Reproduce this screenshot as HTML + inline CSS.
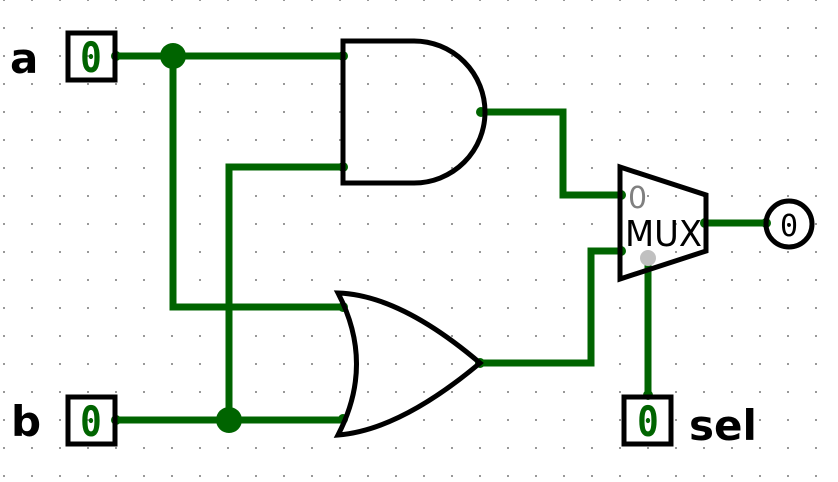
<!DOCTYPE html>
<html><head><style>body{margin:0;background:#fff}svg{display:block}</style></head><body>
<svg width="838" height="482" viewBox="0 0 838 482" xmlns="http://www.w3.org/2000/svg">
<defs><pattern id="g" x="3" y="27" width="28" height="28" patternUnits="userSpaceOnUse"><rect x="0" y="0" width="2" height="2" fill="#999"/></pattern></defs>
<rect x="0" y="0" width="838" height="482" fill="url(#g)"/>
<g stroke="#006400" stroke-width="7" fill="none" stroke-linejoin="miter">
<path d="M116 56H343"/>
<path d="M173 56V307H343"/>
<path d="M116 420H343"/>
<path d="M229 420V167H343"/>
<path d="M481 112H563V195H621"/>
<path d="M480 363H591V251H621"/>
<path d="M705 223H766"/>
<path d="M648 395V260"/>
</g>
<g fill="#006400">
<circle cx="173" cy="56" r="13"/><circle cx="229" cy="420" r="13"/>
<circle cx="116" cy="56" r="5"/><circle cx="116" cy="420" r="5"/>
<circle cx="343" cy="56" r="5"/><circle cx="343" cy="167" r="5"/>
<circle cx="343" cy="307" r="5"/><circle cx="343" cy="419" r="5"/>
<circle cx="481" cy="112" r="5"/><circle cx="480" cy="363" r="5"/>
<circle cx="621" cy="195" r="5"/><circle cx="621" cy="251" r="5"/>
<circle cx="705" cy="223" r="5"/><circle cx="766" cy="223" r="5"/>
<circle cx="648" cy="395" r="5"/>
</g>
<g stroke="#000" stroke-width="5" fill="none">
<path d="M414 41H343V183H414A71 71 0 0 0 414 41Z"/>
<path d="M338 293Q400 295 480 363Q400 430 338 435Q375 364 338 293Z"/>
<path d="M620 167L706 195V251L620 279Z"/>
<circle cx="789" cy="224" r="23"/>
<rect x="68" y="33" width="47" height="47"/>
<rect x="68" y="397" width="47" height="47"/>
<rect x="624" y="397" width="47" height="47"/>
</g>
<circle cx="648" cy="258" r="8" fill="#c0c0c0"/>
<g font-family="DejaVu Sans Mono, monospace" font-weight="bold" fill="#006400" font-size="36" text-anchor="middle">
<text x="91" y="70" transform="translate(91 57) scale(1 1.15) translate(-91 -57)">0</text>
<text x="91" y="434" transform="translate(91 420) scale(1 1.15) translate(-91 -420)">0</text>
<text x="648" y="434" transform="translate(648 420) scale(1 1.15) translate(-648 -420)">0</text>
</g>
<text x="789" y="236" font-family="DejaVu Sans Mono, monospace" font-size="30" text-anchor="middle">0</text>
<text x="628" y="208" font-family="DejaVu Sans, sans-serif" font-size="30" fill="#808080">0</text>
<text x="625" y="246" font-family="DejaVu Sans, sans-serif" font-size="36" textLength="77" lengthAdjust="spacingAndGlyphs">MUX</text>
<g font-family="DejaVu Sans, Liberation Sans, sans-serif" font-weight="bold" font-size="42">
<text x="10" y="73">a</text><text x="11" y="436">b</text><text x="689" y="440">sel</text>
</g>
</svg>
</body></html>
